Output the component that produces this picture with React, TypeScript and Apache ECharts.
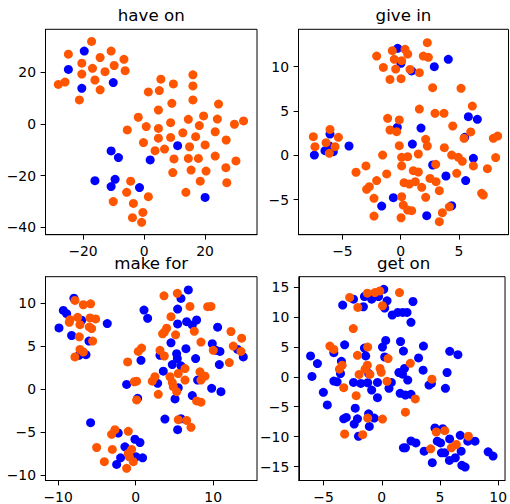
import React, { useEffect, useRef } from "react";
import * as echarts from "echarts";

type Pt = [number, number];

const TITLES = ["have on", "give in", "make for", "get on"];

const X_TICKS = [[-20, 0, 20], [-5, 0, 5], [-10, 0, 10], [-5, 0, 5, 10]];
const Y_TICKS = [[-40, -20, 0, 20], [-5, 0, 5, 10], [-10, -5, 0, 5, 10], [-15, -10, -5, 0, 5, 10, 15]];

const X_RANGE: Pt[] = [[-32.3, 37.0], [-8.76, 9.24], [-11.63, 15.66], [-7.13, 10.59]];
const Y_RANGE: Pt[] = [[-42.8, 36.6], [-8.94, 14.19], [-10.67, 13.1], [-17.32, 16.72]];

const P1_ORANGE: Pt[] = [
  [-17.2, 31.9], [-24.8, 27.0], [-20.4, 23.5], [-16.9, 21.5], [-14.4, 25.7], [-10.8, 28.2], [-6.6, 25.0], [-9.8, 22.6],
  [-12.8, 20.2], [-6.2, 20.6], [-20.4, 19.3], [-16.1, 17.0], [-14.4, 13.2], [-25.9, 16.2], [-28.1, 15.3], [-21.2, 9.3],
  [16.0, 19.0], [16.0, 14.7], [16.0, 9.3], [5.5, 17.3], [9.6, 15.5], [1.4, 12.4], [5.0, 12.9], [9.1, 8.0], [24.4, 7.7],
  [4.7, 5.4], [-1.9, 2.6], [14.5, 1.8], [19.5, 3.1], [24.0, 1.9], [32.6, 1.2], [29.6, -0.1], [-5.5, -2.3], [0.7, -1.0],
  [4.7, -1.7], [8.7, 0.5], [18.1, -0.6], [12.7, -3.4], [23.3, -3.0], [4.7, -5.5], [8.7, -5.2], [16.9, -4.9], [26.9, -6.2],
  [-0.2, -7.2], [14.9, -8.8], [20.0, -8.1], [3.6, -10.3], [6.7, -9.7], [9.8, -13.5], [14.5, -13.3], [17.8, -13.3],
  [23.3, -12.4], [30.1, -14.3], [9.4, -18.8], [15.4, -17.8], [20.3, -18.2], [26.8, -16.9], [18.4, -22.1], [27.1, -22.7],
  [13.7, -26.4], [-4.4, -22.1], [-5.7, -26.4], [-3.5, -30.7], [-10.1, -30.0], [1.4, -28.1], [-0.4, -34.2], [-3.8, -36.2],
  [-0.8, -38.0],
];
const P1_BLUE: Pt[] = [
  [-19.6, 28.2], [-24.8, 21.1], [-10.1, 16.0], [-20.4, 13.8], [11.0, -8.4], [2.0, -13.9], [20.0, -28.4], [-10.8, -10.4],
  [-8.4, -13.0], [-16.1, -21.9], [-9.5, -21.4], [-10.8, -24.2], [-1.5, -24.6],
];

const P2_ORANGE: Pt[] = [
  [2.28, 12.68], [0.37, 11.93], [-0.72, 11.78], [0.6, 11.4], [-2.06, 11.18], [1.94, 11.18], [2.37, 11.03], [-0.55, 10.81],
  [0.08, 10.66], [-1.49, 9.9], [-0.43, 9.71], [0.8, 9.67], [1.6, 9.3], [-0.92, 8.55], [0.03, 8.63], [2.74, 7.62], [5.17, 7.54],
  [6.14, 5.55], [1.6, 5.21], [-1.12, 4.16], [-0.12, 3.98], [2.94, 4.73], [3.71, 4.73], [4.46, 3.3], [-0.92, 2.85],
  [-0.35, 2.66], [6.0, 2.63], [5.43, 1.91], [7.94, 1.91], [8.31, 2.17], [2.14, 1.8], [2.28, 1.05], [-0.12, 1.09],
  [3.74, 0.86], [-1.55, 0.03], [0.08, -0.23], [0.6, -0.15], [1.51, 0.15], [4.37, 0.03], [4.94, -0.23], [5.28, -0.68],
  [8.14, -0.26], [6.23, -1.2], [0.08, -1.2], [3.0, -1.01], [-2.98, -1.2], [-3.83, -1.91], [-1.2, -2.1], [1.08, -1.73],
  [1.51, -1.88], [4.8, -2.03], [7.43, -1.5], [-2.06, -2.85], [2.51, -2.6], [3.03, -2.97], [0.29, -3.08], [0.74, -3.23],
  [1.25, -2.97], [-2.69, -3.53], [-2.92, -3.83], [1.8, -3.6], [3.31, -3.98], [6.94, -4.28], [7.08, -4.47], [0.08, -4.66],
  [-2.29, -4.84], [2.14, -4.73], [0.22, -5.6], [4.17, -5.8], [0.6, -6.17], [0.94, -6.24], [-2.29, -6.84], [0.03, -7.03],
  [3.57, -6.46], [3.31, -7.47], [-7.49, 2.1], [-7.35, 0.97], [-6.06, 2.92], [-6.4, 1.42], [-6.12, 0.22], [-5.63, 0.97],
  [-5.34, 2.03],
];
const P2_BLUE: Pt[] = [
  [-0.26, 12.05], [4.08, 10.81], [0.02, 10.36], [0.94, 9.5], [2.88, 9.98], [5.8, 4.35], [6.57, 4.05], [-0.29, 3.15],
  [1.74, 3.07], [5.49, 2.03], [1.0, 1.27], [6.23, -0.34], [2.74, -1.09], [3.88, -2.33], [5.57, -2.85], [-0.63, -4.77],
  [-1.63, -5.72], [4.37, -5.68], [2.23, -6.8], [-7.4, 0.03], [-6.06, 2.4], [-6.49, 0.52], [-6.12, 1.05], [-5.78, 0.41],
  [-4.43, 1.05],
];

const P3_ORANGE: Pt[] = [
  [-7.83, 10.33], [-6.75, 9.83], [-5.81, 9.94], [-8.47, 8.09], [-8.56, 7.78], [-7.48, 8.36], [-7.18, 7.51], [-5.89, 8.29],
  [-5.16, 8.17], [-5.98, 7.24], [-5.68, 7.05], [-7.27, 6.09], [-5.55, 5.59], [-7.18, 4.62], [-6.75, 4.32], [-7.83, 3.74],
  [5.38, 11.16], [3.66, 10.87], [7.01, 9.63], [9.29, 9.6], [9.72, 9.63], [4.56, 8.44], [7.57, 6.74], [4.0, 7.09],
  [3.7, 6.63], [3.48, 6.44], [5.16, 6.32], [12.3, 6.71], [13.68, 5.93], [8.43, 5.47], [10.02, 4.51], [12.6, 5.01],
  [13.59, 4.39], [0.77, 4.78], [0.34, 4.39], [3.14, 4.51], [3.7, 3.85], [-1.03, 3.16], [6.37, 2.39], [12.09, 3.08],
  [5.5, 1.81], [4.43, 1.43], [8.3, 2.0], [8.95, 1.5], [8.43, 1.04], [6.37, 1.04], [2.49, 1.43], [2.15, 0.92], [4.73, 0.77],
  [0.13, 0.92], [-0.17, 0.85], [4.86, 0.27], [5.29, -0.31], [2.92, -0.62], [0.13, -1.27], [7.87, -1.39], [8.43, -1.54],
  [5.5, -3.58], [6.58, -3.66], [7.14, -4.47], [-0.95, -4.93], [-2.67, -4.74], [-3.1, -5.28], [-5.03, -6.82], [-3.01, -7.05],
  [-0.52, -7.05], [-0.95, -7.51], [-0.82, -7.9], [-0.3, -8.48], [-4.04, -8.48], [-1.16, -9.25],
];
const P3_BLUE: Pt[] = [
  [-7.96, 10.6], [-9.33, 9.17], [-8.9, 8.79], [-9.89, 7.13], [-6.97, 8.02], [-3.66, 7.63], [-8.26, 6.24], [-6.02, 5.59],
  [-6.41, 4.01], [-7.31, 3.93], [6.8, 11.56], [5.85, 10.56], [1.08, 9.21], [1.55, 8.25], [5.42, 9.33], [7.87, 8.05],
  [6.58, 7.86], [5.42, 7.59], [7.31, 7.48], [10.58, 7.21], [4.56, 5.39], [9.89, 5.28], [10.37, 4.51], [10.88, 4.39],
  [13.16, 4.62], [13.89, 3.74], [6.49, 4.7], [3.14, 3.93], [5.29, 4.12], [5.38, 3.55], [7.74, 3.55], [0.69, 3.35],
  [4.73, 2.85], [5.85, 2.7], [10.8, 2.85], [3.57, 2.08], [8.0, 1.04], [2.84, 0.66], [-1.16, 0.54], [5.5, 0.15],
  [9.81, 0.08], [11.01, -0.31], [0.26, -1.08], [5.08, -1.16], [7.31, -0.77], [3.78, -3.51], [5.85, -3.47], [5.42, -4.74],
  [-2.24, -5.13], [-5.81, -3.93], [-0.09, -5.86], [0.56, -6.24], [-1.38, -6.74], [-1.94, -8.02], [0.04, -7.9],
  [0.9, -8.02], [-2.45, -8.79],
];

const P4_ORANGE: Pt[] = [
  [-2.76, 13.25], [-1.24, 13.96], [-0.59, 14.07], [-0.17, 14.35], [1.52, 14.07], [-2.06, 11.59], [0.06, 11.87],
  [-2.45, 8.05], [-4.46, 5.13], [-4.12, 4.58], [-3.41, 1.93], [-3.64, 1.27], [-3.27, -1.82], [-2.09, 3.59], [-1.21, 4.97],
  [-1.24, 1.93], [-1.44, 1.27], [-1.95, 0.39], [-1.02, 0.39], [-0.15, 1.4], [-0.05, 0.75], [0.54, 3.04], [0.45, -0.75],
  [-2.2, -3.15], [-1.21, -6.9], [0.06, -7.06], [-3.19, -9.55], [-1.64, -9.66], [2.45, 2.26], [2.88, -3.7], [2.03, -5.9],
  [4.31, -0.39], [4.68, -9.22], [5.41, -9.0], [4.2, -12.03], [7.44, -9.93], [6.4, -11.31], [5.98, -11.87],
];
const P4_BLUE: Pt[] = [
  [-3.36, 11.98], [-2.43, 12.97], [-1.49, 13.41], [-0.87, 12.97], [-0.28, 13.41], [0.17, 14.62], [0.45, 12.69],
  [-1.58, 11.7], [0.25, 11.48], [0.9, 10.32], [1.38, 10.76], [1.8, 10.76], [2.17, 10.76], [2.68, 12.58], [2.51, 9.1],
  [-6.12, 3.48], [-5.53, 2.21], [-6.0, 0.06], [-5.02, -2.59], [-4.68, -4.69], [-4.12, 4.03], [-3.19, 5.35], [-3.47, 2.59],
  [-3.55, 0.55], [-4.12, -0.72], [-3.84, -0.83], [-1.49, 4.8], [-1.38, 3.48], [-2.43, -0.94], [-1.8, -1.1], [-1.21, -0.99],
  [-0.87, -2.21], [-0.37, -0.94], [-0.37, -3.48], [0.06, 4.97], [0.34, 6.07], [0.25, 3.31], [0.82, -0.94], [0.62, -1.93],
  [-1.13, 0.55], [1.61, 5.9], [1.86, 4.3], [3.58, 5.13], [3.16, 3.15], [1.95, 1.4], [1.47, 0.72], [1.78, 0.44],
  [2.23, -0.55], [3.55, 1.1], [5.84, 4.25], [6.54, 3.7], [5.61, 0.72], [4.26, -1.1], [4.06, -1.38], [5.47, -1.93],
  [1.58, -2.76], [2.03, -3.04], [2.51, -2.92], [-2.28, -5.24], [-3.05, -6.79], [-3.27, -7.01], [-2.09, -7.01],
  [-2.37, -7.89], [-0.65, -6.9], [-1.07, -8.28], [-2.0, -9.93], [-1.13, -6.18], [4.57, -8.55], [5.24, -8.66],
  [2.51, -10.71], [2.93, -11.04], [2.03, -11.87], [3.64, -12.42], [4.77, -10.76], [5.05, -11.04], [5.83, -10.38],
  [6.74, -9.77], [7.39, -10.76], [8.01, -10.76], [5.13, -12.69], [5.41, -12.69], [6.82, -12.42], [4.34, -14.35],
  [6.32, -13.52], [5.81, -13.96], [6.88, -14.79], [7.16, -15.07], [9.14, -12.53], [9.56, -13.24], [1.86, -11.87],
];

const ORANGE_SETS = [P1_ORANGE, P2_ORANGE, P3_ORANGE, P4_ORANGE];
const BLUE_SETS = [P1_BLUE, P2_BLUE, P3_BLUE, P4_BLUE];

const GRIDS = [
  { left: 45.5, top: 29.3, width: 211.5, height: 205.4 },
  { left: 298.5, top: 29.3, width: 210, height: 205.4 },
  { left: 45.5, top: 276.7, width: 211.5, height: 205.6 },
  { left: 298.8, top: 276.7, width: 209.7, height: 205.6 },
];

const ORANGE = "#ff5500";
const BLUE = "#0000ff";
const FONT = "DejaVu Sans";

const fmt = (v: number) => (v < 0 ? "\u2212" + Math.abs(v) : String(v));

export default function App() {
  const ref = useRef<HTMLDivElement>(null);
  useEffect(() => {
    if (!ref.current) return;
    const chart = echarts.init(ref.current, undefined, { renderer: "svg" });
    const axisCommon = (ticks: number[], range: Pt, gi: number) => ({
      type: "value",
      gridIndex: gi,
      min: range[0],
      max: range[1],
      axisLine: { show: true, onZero: false, lineStyle: { color: "#000", width: 1 } },
      axisTick: { show: true, inside: false, length: 4.9, customValues: ticks, lineStyle: { color: "#000", width: 1 } },
      axisLabel: {
        show: true,
        customValues: ticks,
        formatter: fmt,
        margin: 9.5,
        color: "#000",
        fontFamily: FONT,
        fontSize: 13.9,
      },
      splitLine: { show: false },
    });
    const series: any[] = [];
    for (let i = 0; i < 4; i++) {
      series.push({
        type: "scatter",
        xAxisIndex: i,
        yAxisIndex: i,
        symbolSize: 9,
        silent: true,
        itemStyle: { color: BLUE, opacity: 1 },
        data: BLUE_SETS[i],
      });
      series.push({
        type: "scatter",
        xAxisIndex: i,
        yAxisIndex: i,
        symbolSize: 9,
        silent: true,
        itemStyle: { color: ORANGE, opacity: 1 },
        data: ORANGE_SETS[i],
      });
    }
    const titleY = [15.9, 15.9, 263.2, 263.2];
    chart.setOption({
      animation: false,
      backgroundColor: "#fff",
      grid: GRIDS.map((g) => ({ ...g, show: true, borderColor: "#000", borderWidth: 1, containLabel: false })),
      xAxis: GRIDS.map((_, i) => axisCommon(X_TICKS[i], X_RANGE[i], i)),
      yAxis: GRIDS.map((_, i) => axisCommon(Y_TICKS[i], Y_RANGE[i], i)),
      series,
      graphic: GRIDS.map((g, i) => ({
        type: "text",
        x: g.left + g.width / 2,
        y: titleY[i],
        style: {
          text: TITLES[i],
          fill: "#000",
          fontFamily: FONT,
          fontSize: 16.67,
          align: "center",
          verticalAlign: "middle",
        },
      })),
    });
    return () => chart.dispose();
  }, []);
  return (
    <div
      ref={ref}
      style={{ position: "fixed", left: 0, top: 0, width: 510, height: 504, background: "#fff" }}
    />
  );
}
